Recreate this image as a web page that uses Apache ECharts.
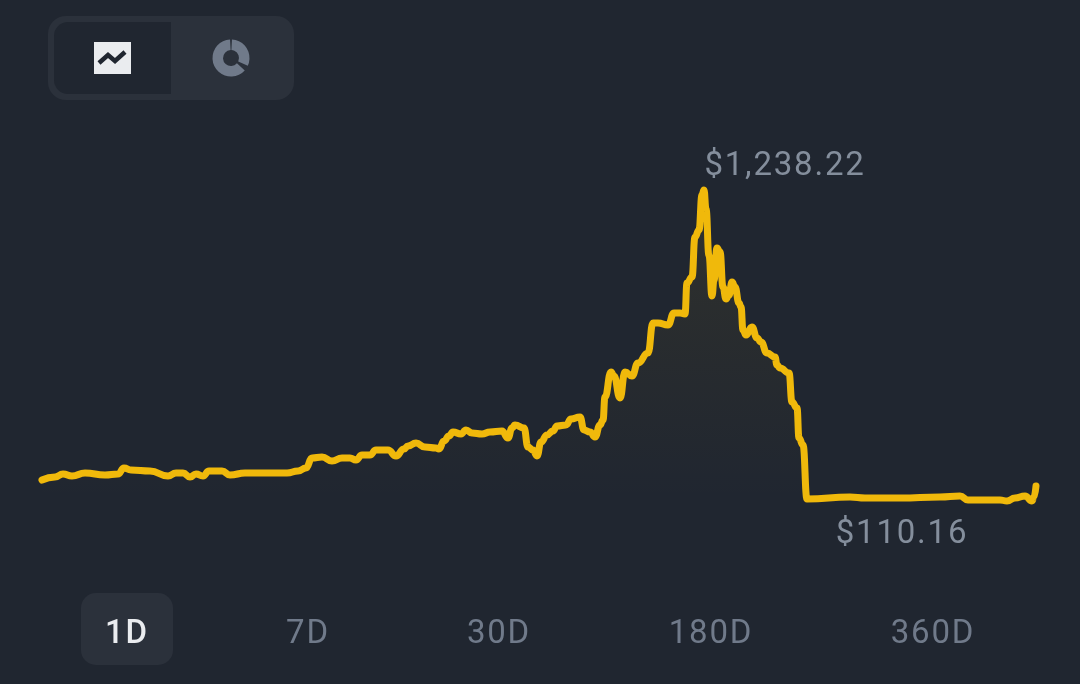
<!DOCTYPE html>
<html><head><meta charset="utf-8">
<style>html,body{margin:0;padding:0;background:#202630}#c{width:1080px;height:684px}</style>
<script src="https://cdn.jsdelivr.net/npm/echarts@6/dist/echarts.min.js"></script>
</head><body><div id="c"></div>
<script>
const times = [0,13,21,30,43,63,76,82,89,108,126,134,141,148,154,161,167,180,188,203,213,228,245,256,264,270,280,290,300,308,314,320,328,334,346,354,362,366,374,383,394,397,402,407,411,419,424,430,440,448,460,466,470,473,482,486,491,495,499,505,511,515,524,529,538,542,548,553,558,561,563,569,572,578,583,590,596,606,611,616,626,632,638,643,645,650,653,657,660,662,664,667,670,672,675,678,681,684,687,690,693,697,699,701,704,710,715,719,725,733,735,738,747,750,755,757,761,765,808,823,858,898,918,926,958,965,973,983,990,992,994];
const prices = [186.3,197.2,208.1,200.8,211.7,204.5,208.1,229.9,222.6,219.0,200.8,211.7,211.7,197.2,208.1,200.8,219.0,219.0,204.5,211.7,211.7,211.7,211.7,219.0,229.9,266.1,269.8,255.2,266.1,266.1,258.9,277.0,277.0,295.1,295.1,273.4,298.8,309.6,320.5,306.0,302.4,298.8,327.8,345.9,360.4,353.2,367.7,356.8,353.2,360.4,364.0,338.7,374.9,385.8,374.9,306.0,295.1,273.4,324.2,349.5,364.0,382.2,385.8,407.6,414.8,367.7,360.4,342.3,385.8,403.9,487.4,578.0,563.5,483.7,578.0,563.5,610.7,646.9,755.8,755.8,748.5,792.0,792.0,788.4,900.8,922.6,1067.7,1093.1,1220.0,1238.22,1170.0,1000.0,853.7,911.7,1027.8,1013.3,886.3,842.8,857.3,904.5,886.3,828.3,813.8,730.4,712.2,741.3,701.4,686.8,646.9,632.4,603.4,592.5,574.4,469.2,447.5,338.7,313.3,117.4,124.7,121.0,121.0,124.7,128.3,113.8,113.8,110.16,121.0,128.3,110.16,124.7,164.6];
const peakLabel = "$1,238.22";
const lowLabel = "$110.16";
const tabLabels = ["1D","7D","30D","180D","360D"];
const tabCentres = [127,308,499,711,933];

const font = "Roboto";
const bg = "#202630", chip = "#2b313b", muted = "#848e9c", grey = "#707a8a";
const baseFillText = CanvasRenderingContext2D.prototype.fillText;
CanvasRenderingContext2D.prototype.fillText = function(){ this.letterSpacing = '1.8px'; return baseFillText.apply(this, arguments); };
const chart = echarts.init(document.getElementById('c'), null, {renderer:'canvas'});
const lbl = (text,x,y,fill,size,w) => ({type:'text',x,y,silent:true,style:{text,fill,font:(w||400)+' '+size+'px '+font,align:'center',verticalAlign:'middle'}});
const deg = d => d*Math.PI/180;
chart.setOption({
  animation:false,
  backgroundColor:bg,
  grid:{left:42,right:44,top:190,bottom:183},
  xAxis:{type:'value',min:0,max:994,show:false},
  yAxis:{type:'value',min:110.16,max:1238.22,show:false},
  series:[{
    type:'line',clip:false,showSymbol:false,smooth:0.5,smoothMonotone:'x',
    data:times.map((t,i)=>[t,prices[i]]),
    lineStyle:{color:'#f0b90b',width:7,cap:'round',join:'round'},
    areaStyle:{color:new echarts.graphic.LinearGradient(0,0,0,1,[
      {offset:0,color:'rgba(240,185,11,0.11)'},{offset:1,color:'rgba(240,185,11,0)'}]),origin:'start'}
  }],
  graphic:[
    {type:'rect',silent:true,shape:{x:48,y:16,width:246,height:84,r:18},style:{fill:chip}},
    {type:'rect',silent:true,shape:{x:54,y:22,width:117,height:72,r:[14,0,0,14]},style:{fill:bg}},
    {type:'rect',silent:true,shape:{x:94,y:42,width:37,height:32},style:{fill:'#eaecef'}},
    {type:'polyline',silent:true,shape:{points:[[99,63],[108,55],[115,61],[125,52]]},style:{stroke:bg,lineWidth:4.5,fill:null}},
    {type:'sector',silent:true,shape:{cx:231,cy:58,r:18.5,r0:8,startAngle:deg(42),endAngle:deg(267),clockwise:true},style:{fill:grey}},
    {type:'sector',silent:true,shape:{cx:231,cy:58,r:18.5,r0:8,startAngle:deg(273),endAngle:deg(385),clockwise:true},style:{fill:grey}},
    lbl(peakLabel,785,167,muted,33),
    lbl(lowLabel,902,535,muted,33),
    {type:'rect',silent:true,shape:{x:81,y:593,width:92,height:72,r:15},style:{fill:chip}},
    ...tabLabels.map((t,i)=>lbl(t,tabCentres[i],635,i===0?'#eaecef':grey,33,i===0?500:400))
  ]
});
</script></body></html>
